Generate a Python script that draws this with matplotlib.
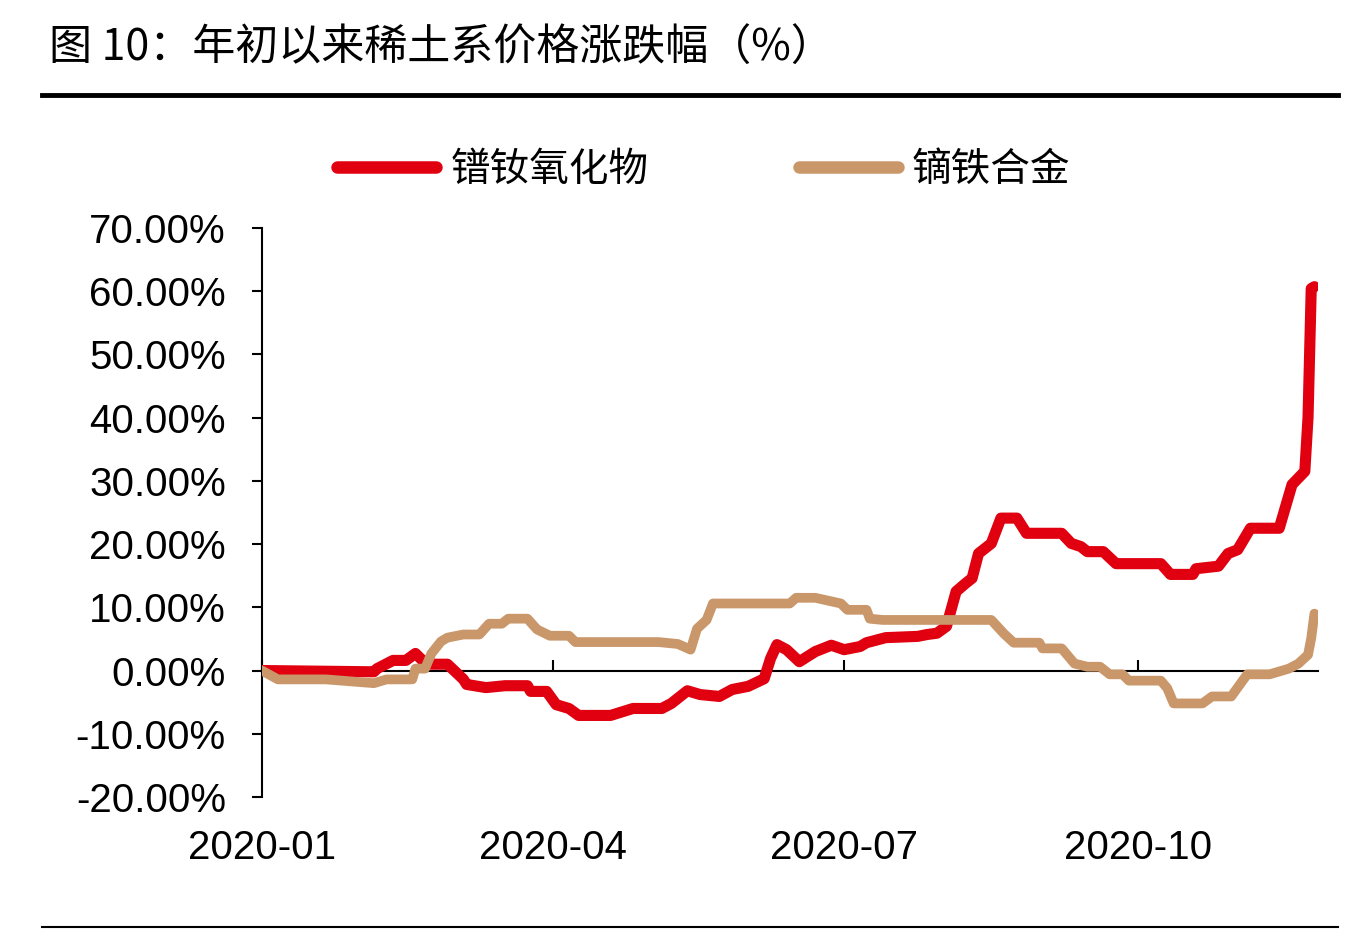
import numpy as np
import pandas as pd
import matplotlib
matplotlib.use('Agg')
import matplotlib.pyplot as plt
from matplotlib.ticker import FuncFormatter

plt.rcParams['font.family'] = ['Liberation Sans', 'Noto Sans CJK SC']

title = '图 10：年初以来稀土系价格涨跌幅（%）'
series_names = ['镨钕氧化物', '镝铁合金']

# 镨钕氧化物 (price change since Jan 1, %)
pr_dates = ['2020-01-01', '2020-02-05', '2020-02-06', '2020-02-11', '2020-02-15',
            '2020-02-18', '2020-02-20', '2020-02-23', '2020-02-28', '2020-03-04',
            '2020-03-05', '2020-03-11', '2020-03-17', '2020-03-24', '2020-03-25',
            '2020-03-30', '2020-04-02', '2020-04-06', '2020-04-09', '2020-04-19',
            '2020-04-26', '2020-05-05', '2020-05-08', '2020-05-13', '2020-05-17',
            '2020-05-23', '2020-05-27', '2020-06-01', '2020-06-06', '2020-06-08',
            '2020-06-10', '2020-06-13', '2020-06-17', '2020-06-22', '2020-06-27',
            '2020-07-01', '2020-07-06', '2020-07-08', '2020-07-14', '2020-07-24',
            '2020-07-27', '2020-07-30', '2020-08-02', '2020-08-05', '2020-08-08',
            '2020-08-10', '2020-08-12', '2020-08-16', '2020-08-19', '2020-08-24',
            '2020-08-27', '2020-09-07', '2020-09-10', '2020-09-13', '2020-09-15',
            '2020-09-20', '2020-09-24', '2020-10-08', '2020-10-11', '2020-10-18',
            '2020-10-19', '2020-10-26', '2020-10-29', '2020-11-01', '2020-11-05',
            '2020-11-14', '2020-11-18', '2020-11-22', '2020-11-23', '2020-11-24',
            '2020-11-25']
pr_values = [0.0, -0.2, 0.3, 1.6, 1.6,
             2.7, 1.7, 1.0, 1.0, -1.4,
             -2.2, -2.7, -2.4, -2.4, -3.3,
             -3.3, -5.4, -6.0, -7.1, -7.1,
             -6.0, -6.0, -5.2, -3.2, -3.8,
             -4.1, -3.0, -2.5, -1.3, 1.9,
             4.1, 3.3, 1.4, 3.0, 4.0,
             3.3, 3.8, 4.4, 5.2, 5.4,
             5.7, 5.9, 7.0, 12.5, 13.8,
             14.6, 18.5, 20.1, 24.1, 24.1,
             21.7, 21.7, 20.1, 19.6, 18.8,
             18.8, 16.9, 16.9, 15.2, 15.2,
             16.1, 16.5, 18.5, 19.1, 22.5,
             22.5, 29.4, 31.5, 40.0, 60.4,
             60.7]

# 镝铁合金
dy_dates = ['2020-01-01', '2020-01-06', '2020-01-21', '2020-02-05', '2020-02-09',
            '2020-02-17', '2020-02-18', '2020-02-21', '2020-02-23', '2020-02-26',
            '2020-02-28', '2020-03-04', '2020-03-09', '2020-03-12', '2020-03-16',
            '2020-03-18', '2020-03-24', '2020-03-27', '2020-03-31', '2020-04-06',
            '2020-04-08', '2020-05-04', '2020-05-10', '2020-05-14', '2020-05-16',
            '2020-05-19', '2020-05-21', '2020-06-14', '2020-06-16', '2020-06-22',
            '2020-06-30', '2020-07-02', '2020-07-08', '2020-07-09', '2020-07-13',
            '2020-08-16', '2020-08-20', '2020-08-23', '2020-08-31', '2020-09-01',
            '2020-09-07', '2020-09-11', '2020-09-15', '2020-09-19', '2020-09-22',
            '2020-09-26', '2020-09-28', '2020-10-08', '2020-10-10', '2020-10-12',
            '2020-10-21', '2020-10-24', '2020-10-30', '2020-11-02', '2020-11-04',
            '2020-11-11', '2020-11-17', '2020-11-20', '2020-11-23', '2020-11-24',
            '2020-11-25']
dy_values = [0.0, -1.4, -1.4, -2.0, -1.4,
             -1.4, 0.3, 0.3, 2.7, 4.6,
             5.2, 5.7, 5.7, 7.4, 7.4,
             8.2, 8.2, 6.5, 5.5, 5.5,
             4.5, 4.5, 4.2, 3.3, 6.6,
             8.0, 10.6, 10.6, 11.5, 11.5,
             10.6, 9.6, 9.6, 8.2, 8.0,
             8.0, 5.8, 4.4, 4.4, 3.5,
             3.5, 1.1, 0.6, 0.6, -0.6,
             -0.6, -1.6, -1.6, -2.8, -5.2,
             -5.2, -4.1, -4.1, -2.0, -0.6,
             -0.6, 0.3, 1.1, 2.5, 5.1,
             9.0]

x_ticks = ['2020-01-01', '2020-04-01', '2020-07-01', '2020-10-01']
x_ticklabels = ['2020-01', '2020-04', '2020-07', '2020-10']
y_ticks = np.arange(-20, 71, 10)

fig = plt.figure(figsize=(13.64, 9.30), dpi=100)
ax = fig.add_axes([0.192, 0.143, 0.774, 0.612])

ax.plot(pd.to_datetime(pr_dates), pr_values, color='#E1000F', lw=8,
        solid_capstyle='round', solid_joinstyle='round', label=series_names[0], zorder=3)
ax.plot(pd.to_datetime(dy_dates), dy_values, color='#C9976A', lw=7,
        solid_capstyle='round', solid_joinstyle='round', label=series_names[1], zorder=4)

ax.set_xlim(pd.Timestamp('2020-01-01'), pd.Timestamp('2020-11-26'))
ax.set_ylim(-20, 70)

ax.set_yticks(y_ticks)
ax.yaxis.set_major_formatter(FuncFormatter(lambda v, p: f'{v:.2f}%'))
ax.tick_params(axis='y', direction='out', length=7, width=1.5, labelsize=29, pad=19)

ax.set_xticks(pd.to_datetime(x_ticks))
ax.set_xticklabels(x_ticklabels)
ax.tick_params(axis='x', direction='in', length=8, width=1.5, labelsize=29, pad=114)

for s in ['top', 'right']:
    ax.spines[s].set_visible(False)
ax.spines['left'].set_linewidth(1.5)
ax.spines['bottom'].set_position(('data', 0))
ax.spines['bottom'].set_linewidth(1.5)
ax.spines['bottom'].set_zorder(2)

leg = fig.legend(loc='center', bbox_to_anchor=(0.516, 0.817), ncol=2, frameon=False,
                 fontsize=28.5, handlelength=2.5, handletextpad=0.35, columnspacing=3.8)
for h in leg.legend_handles:
    h.set_linewidth(9)
    h.set_solid_capstyle('round')

fig.text(0.036, 0.948, title, fontsize=31, ha='left', va='center',
         family=['Noto Sans CJK SC', 'Liberation Sans'])
fig.add_artist(plt.Line2D([0.031, 0.981], [0.898, 0.898], color='black', lw=3.5,
                          transform=fig.transFigure))
fig.add_artist(plt.Line2D([0.031, 0.981], [0.003, 0.003], color='black', lw=1.5,
                          transform=fig.transFigure))

fig.savefig('out.png', dpi=100)
